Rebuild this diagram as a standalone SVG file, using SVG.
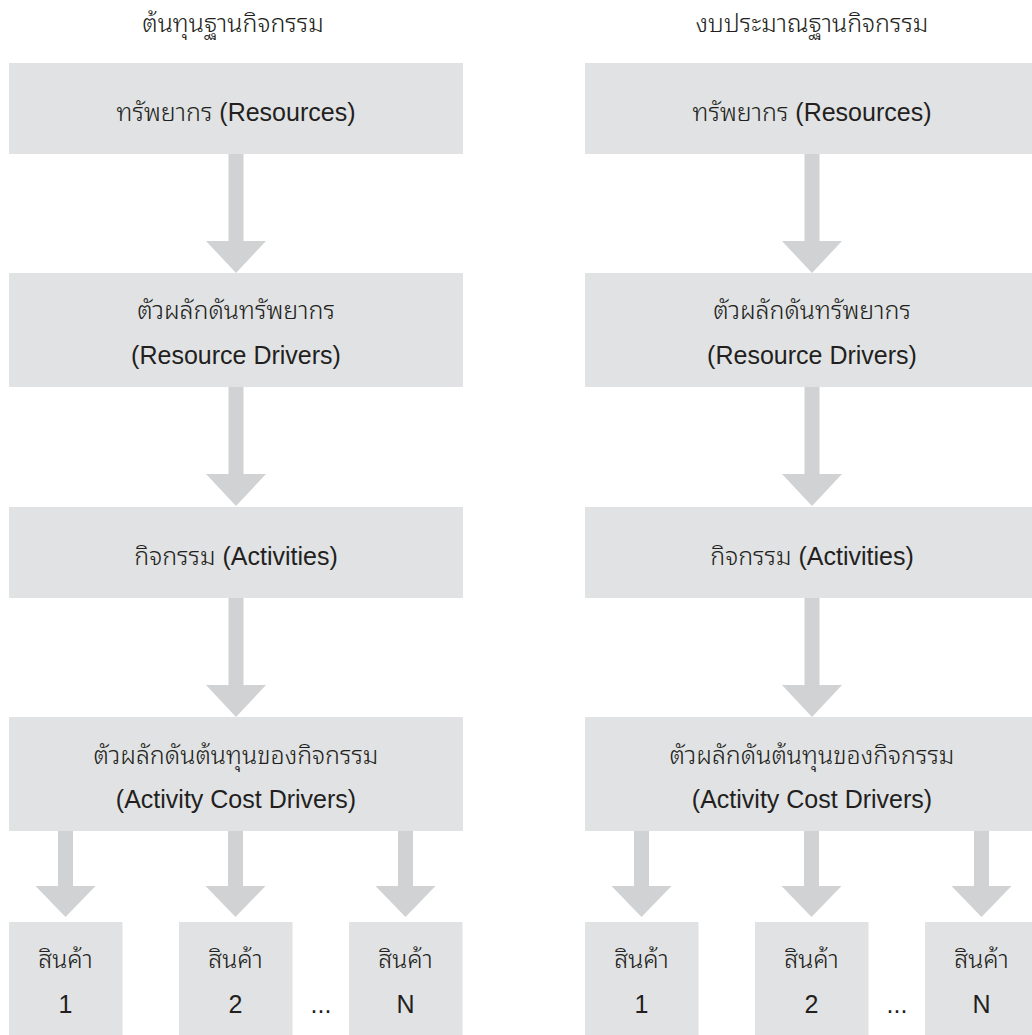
<svg xmlns="http://www.w3.org/2000/svg" width="1032" height="1035" viewBox="0 0 1032 1035">
<style>
  .box { fill: #e1e2e4; }
  .arrow { fill: #d1d2d4; }
  text { font-family: "Liberation Sans", "Noto Sans Thai Looped", "Noto Sans Thai", "Noto Sans", sans-serif; font-size: 25px; font-weight: 400; fill: #231f20; text-anchor: middle; }
  .th { font-family: "Noto Sans Thai Looped", "Noto Sans Thai", "Liberation Sans", sans-serif; font-weight: 300; }
</style>
<defs>
  <path id="arrowLong" d="M-7.5,0 H7.5 V87 H30 L0,119 L-30,87 H-7.5 Z"/>
  <path id="arrowShort" d="M-7.5,0 H7.5 V55 H30 L0,86 L-30,55 H-7.5 Z"/>
</defs>

<g id="connectors">
  <use href="#arrowLong" class="arrow" x="236" y="154"/>
  <use href="#arrowLong" class="arrow" x="236" y="387"/>
  <use href="#arrowLong" class="arrow" x="236" y="598"/>
  <use href="#arrowShort" class="arrow" x="65.5" y="831"/>
  <use href="#arrowShort" class="arrow" x="235.5" y="831"/>
  <use href="#arrowShort" class="arrow" x="405.5" y="831"/>
  <use href="#arrowLong" class="arrow" x="812" y="154"/>
  <use href="#arrowLong" class="arrow" x="812" y="387"/>
  <use href="#arrowLong" class="arrow" x="812" y="598"/>
  <use href="#arrowShort" class="arrow" x="641.5" y="831"/>
  <use href="#arrowShort" class="arrow" x="811.5" y="831"/>
  <use href="#arrowShort" class="arrow" x="981.5" y="831"/>
</g>

<g id="title-left"><text class="th" x="233" y="32">ต้นทุนฐานกิจกรรม</text></g>
<g id="title-right"><text class="th" x="812" y="32">งบประมาณฐานกิจกรรม</text></g>

<g id="L-resources"><rect class="box" x="9" y="63" width="454" height="91"/><text x="236" y="121"><tspan class="th">ทรัพยากร</tspan> (Resources)</text></g>
<g id="L-resource-drivers"><rect class="box" x="9" y="273" width="454" height="114"/><text class="th" x="236" y="319">ตัวผลักดันทรัพยากร</text><text x="236" y="364">(Resource Drivers)</text></g>
<g id="L-activities"><rect class="box" x="9" y="507" width="454" height="91"/><text x="236" y="565"><tspan class="th">กิจกรรม</tspan> (Activities)</text></g>
<g id="L-activity-cost-drivers"><rect class="box" x="9" y="717" width="454" height="114"/><text class="th" x="236" y="764">ตัวผลักดันต้นทุนของกิจกรรม</text><text x="236" y="808">(Activity Cost Drivers)</text></g>
<g id="L-product-1"><rect class="box" x="9" y="922" width="113.5" height="120"/><text class="th" x="65.5" y="968">สินค้า</text><text x="65.5" y="1013">1</text></g>
<g id="L-product-2"><rect class="box" x="179" y="922" width="113.5" height="120"/><text class="th" x="235.5" y="968">สินค้า</text><text x="235.5" y="1013">2</text></g>
<g id="L-ellipsis"><text x="321" y="1013">...</text></g>
<g id="L-product-N"><rect class="box" x="349" y="922" width="113.5" height="120"/><text class="th" x="405.5" y="968">สินค้า</text><text x="405.5" y="1013">N</text></g>

<g id="R-resources"><rect class="box" x="585" y="63" width="454" height="91"/><text x="812" y="121"><tspan class="th">ทรัพยากร</tspan> (Resources)</text></g>
<g id="R-resource-drivers"><rect class="box" x="585" y="273" width="454" height="114"/><text class="th" x="812" y="319">ตัวผลักดันทรัพยากร</text><text x="812" y="364">(Resource Drivers)</text></g>
<g id="R-activities"><rect class="box" x="585" y="507" width="454" height="91"/><text x="812" y="565"><tspan class="th">กิจกรรม</tspan> (Activities)</text></g>
<g id="R-activity-cost-drivers"><rect class="box" x="585" y="717" width="454" height="114"/><text class="th" x="812" y="764">ตัวผลักดันต้นทุนของกิจกรรม</text><text x="812" y="808">(Activity Cost Drivers)</text></g>
<g id="R-product-1"><rect class="box" x="585" y="922" width="113.5" height="120"/><text class="th" x="641.5" y="968">สินค้า</text><text x="641.5" y="1013">1</text></g>
<g id="R-product-2"><rect class="box" x="755" y="922" width="113.5" height="120"/><text class="th" x="811.5" y="968">สินค้า</text><text x="811.5" y="1013">2</text></g>
<g id="R-ellipsis"><text x="897" y="1013">...</text></g>
<g id="R-product-N"><rect class="box" x="925" y="922" width="113.5" height="120"/><text class="th" x="981.5" y="968">สินค้า</text><text x="981.5" y="1013">N</text></g>
</svg>
